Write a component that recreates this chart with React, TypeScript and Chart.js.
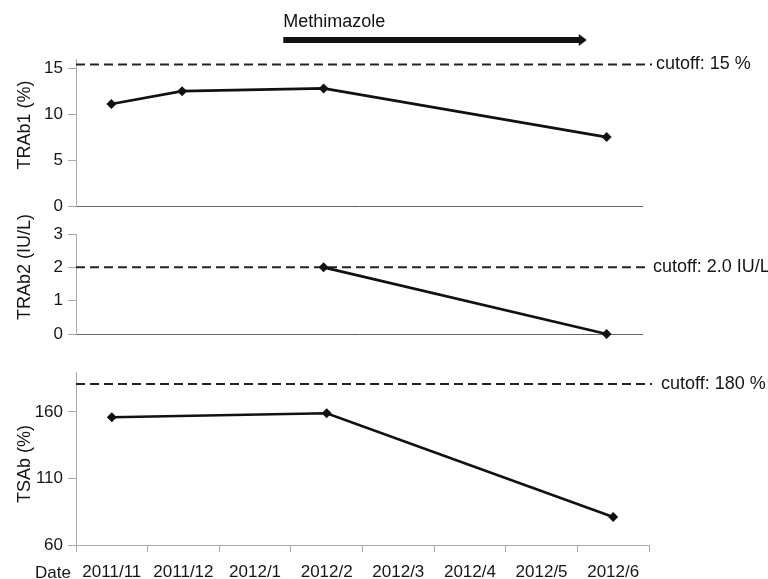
import React, { useEffect, useRef } from 'react';
import { Chart, registerables } from 'chart.js';

Chart.register(...registerables);

const FONT = '"Liberation Sans", Arial, Helvetica, sans-serif';
Chart.defaults.font.family = FONT;

// ---- data ----
const months = ['2011/11', '2011/12', '2012/1', '2012/2', '2012/3', '2012/4', '2012/5', '2012/6'];
const trab1Values = [11.1, 12.5, null, 12.8, null, null, null, 7.5];
const trab2Values = [null, null, null, 2.0, null, null, null, 0];
const tsabValues = [156, null, null, 159, null, null, null, 81];

const trab1Ticks = [0, 5, 10, 15];
const trab2Ticks = [0, 1, 2, 3];
const tsabTicks = [60, 110, 160];

const trab1Cutoff = 15.4;
const trab2Cutoff = 2.0;
const tsabCutoff = 181;

const trab1CutoffLabel = 'cutoff: 15 %';
const trab2CutoffLabel = 'cutoff: 2.0 IU/L';
const tsabCutoffLabel = 'cutoff: 180 %';

const trab1Title = 'TRAb1 (%)';
const trab2Title = 'TRAb2 (IU/L)';
const tsabTitle = 'TSAb (%)';

const treatmentLabel = 'Methimazole';
const treatmentSpan = [2.43, 6.72]; // in category-index units

const TEXT = '#161616';

const cutoffPlugin = {
  id: 'cutoff',
  beforeDatasetsDraw(chart: any, _args: any, opts: any) {
    const { ctx, chartArea, scales } = chart;
    const y = scales.y.getPixelForValue(opts.value);
    ctx.save();
    ctx.setLineDash([9, 5]);
    ctx.lineWidth = 2;
    ctx.strokeStyle = '#222';
    ctx.beginPath();
    ctx.moveTo(chartArea.left, y);
    ctx.lineTo(chartArea.right + opts.dashExtra, y);
    ctx.stroke();
    ctx.setLineDash([]);
    ctx.fillStyle = TEXT;
    ctx.font = `18px ${FONT}`;
    ctx.textBaseline = 'middle';
    ctx.textAlign = 'left';
    ctx.fillText(opts.label, chartArea.right + opts.labelGap, y);
    ctx.restore();
  },
};

const yTitlePlugin = {
  id: 'yTitle',
  afterDraw(chart: any, _args: any, opts: any) {
    const { ctx, chartArea } = chart;
    ctx.save();
    ctx.translate(25, chartArea.top + opts.centerOffset);
    ctx.rotate(-Math.PI / 2);
    ctx.fillStyle = TEXT;
    ctx.font = `18px ${FONT}`;
    ctx.textBaseline = 'middle';
    ctx.textAlign = 'center';
    ctx.fillText(opts.text, 0, 0);
    ctx.restore();
  },
};

const treatmentPlugin = {
  id: 'treatment',
  afterDraw(chart: any, _args: any, opts: any) {
    if (!opts || !opts.enabled) return;
    const { ctx, chartArea, scales } = chart;
    const x0 = scales.x.getPixelForValue(treatmentSpan[0]);
    const x1 = scales.x.getPixelForValue(treatmentSpan[1]);
    const yArrow = chartArea.top - 19;
    ctx.save();
    ctx.fillStyle = '#111';
    ctx.font = `18px ${FONT}`;
    ctx.textBaseline = 'middle';
    ctx.textAlign = 'left';
    ctx.fillText(treatmentLabel, x0, chartArea.top - 37);
    ctx.fillRect(x0, yArrow - 3, x1 - 7 - x0, 6);
    ctx.beginPath();
    ctx.moveTo(x1 - 8, yArrow - 6);
    ctx.lineTo(x1, yArrow);
    ctx.lineTo(x1 - 8, yArrow + 6);
    ctx.closePath();
    ctx.fill();
    ctx.restore();
  },
};

const dateLabelPlugin = {
  id: 'dateLabel',
  afterDraw(chart: any, _args: any, opts: any) {
    if (!opts || !opts.enabled) return;
    const { ctx, chartArea } = chart;
    ctx.save();
    ctx.fillStyle = TEXT;
    ctx.font = `17px ${FONT}`;
    ctx.textBaseline = 'middle';
    ctx.textAlign = 'right';
    ctx.fillText('Date', chartArea.left - 5, chartArea.bottom + 28);
    ctx.restore();
  },
};

type PanelCfg = {
  values: (number | null)[];
  min: number;
  max: number;
  ticks: number[];
  title: string;
  titleCenter: number;
  cutoff: number;
  cutoffLabel: string;
  dashExtra: number;
  labelGap: number;
  showX: boolean;
  xBorderColor: string;
  padding: { top: number; bottom: number; left: number; right: number };
  treatment: boolean;
};

function makeChart(canvas: HTMLCanvasElement, p: PanelCfg) {
  return new Chart(canvas, {
    type: 'line',
    data: {
      labels: months,
      datasets: [
        {
          data: p.values,
          borderColor: '#111',
          backgroundColor: '#111',
          borderWidth: 2.7,
          pointStyle: 'rectRot',
          pointRadius: 5,
          pointBorderWidth: 0,
          pointBackgroundColor: '#111',
          spanGaps: true,
          tension: 0,
          clip: false as any,
        },
      ],
    },
    plugins: [cutoffPlugin, treatmentPlugin, dateLabelPlugin, yTitlePlugin],
    options: {
      animation: false,
      responsive: false,
      events: [],
      layout: { padding: p.padding },
      plugins: {
        legend: { display: false },
        tooltip: { enabled: false },
        cutoff: { value: p.cutoff, label: p.cutoffLabel, dashExtra: p.dashExtra, labelGap: p.labelGap },
        treatment: { enabled: p.treatment },
        dateLabel: { enabled: p.showX },
        yTitle: { text: p.title, centerOffset: p.titleCenter },
      } as any,
      scales: {
        x: {
          type: 'category',
          offset: true,
          afterFit: (s: any) => {
            s.height = p.showX ? 34 : 0;
          },
          border: { display: true, color: p.xBorderColor, width: 1 },
          grid: {
            display: true,
            offset: true,
            drawOnChartArea: false,
            drawTicks: p.showX,
            tickLength: 7,
            color: '#aaa',
          },
          ticks: {
            display: p.showX,
            color: TEXT,
            font: { size: 17, family: FONT },
            padding: 10,
            maxRotation: 0,
            autoSkip: false,
          },
        },
        y: {
          min: p.min,
          max: p.max,
          afterBuildTicks: (s: any) => {
            s.ticks = p.ticks.map((v) => ({ value: v }));
          },
          afterFit: (s: any) => {
            s.width = 62;
          },
          border: { display: true, color: '#aaa', width: 1 },
          grid: { display: true, drawOnChartArea: false, drawTicks: true, tickLength: 8, color: '#aaa' },
          ticks: { color: TEXT, font: { size: 17, family: FONT }, padding: 5 },
          title: { display: false },
        },
      },
    } as any,
  });
}

const panels: { top: number; height: number; cfg: PanelCfg }[] = [
  {
    top: 0,
    height: 225,
    cfg: {
      values: trab1Values,
      min: 0,
      max: 16,
      ticks: trab1Ticks,
      title: trab1Title,
      titleCenter: 66,
      cutoff: trab1Cutoff,
      cutoffLabel: trab1CutoffLabel,
      dashExtra: 10,
      labelGap: 14,
      showX: false,
      xBorderColor: '#666',
      padding: { top: 59, bottom: 19, left: 14, right: 126 },
      treatment: true,
    },
  },
  {
    top: 200,
    height: 160,
    cfg: {
      values: trab2Values,
      min: 0,
      max: 3,
      ticks: trab2Ticks,
      title: trab2Title,
      titleCenter: 33,
      cutoff: trab2Cutoff,
      cutoffLabel: trab2CutoffLabel,
      dashExtra: 7,
      labelGap: 11,
      showX: false,
      xBorderColor: '#666',
      padding: { top: 34, bottom: 26, left: 14, right: 126 },
      treatment: false,
    },
  },
  {
    top: 340,
    height: 239,
    cfg: {
      values: tsabValues,
      min: 60,
      max: 190,
      ticks: tsabTicks,
      title: tsabTitle,
      titleCenter: 92,
      cutoff: tsabCutoff,
      cutoffLabel: tsabCutoffLabel,
      dashExtra: 3,
      labelGap: 12,
      showX: true,
      xBorderColor: '#aaa',
      padding: { top: 32, bottom: 0, left: 14, right: 119 },
      treatment: false,
    },
  },
];

function Panel({ top, height, cfg }: { top: number; height: number; cfg: PanelCfg }) {
  const ref = useRef<HTMLCanvasElement | null>(null);
  useEffect(() => {
    if (!ref.current) return;
    const chart = makeChart(ref.current, cfg);
    return () => chart.destroy();
  }, []);
  return (
    <canvas
      ref={ref}
      width={768}
      height={height}
      style={{ position: 'absolute', left: 0, top, width: 768, height }}
    />
  );
}

export default function App() {
  return (
    <div
      style={{
        position: 'absolute',
        left: 0,
        top: 0,
        width: 768,
        height: 579,
        background: '#fff',
        overflow: 'hidden',
      }}
    >
      {panels.map((p, i) => (
        <Panel key={i} top={p.top} height={p.height} cfg={p.cfg} />
      ))}
    </div>
  );
}
